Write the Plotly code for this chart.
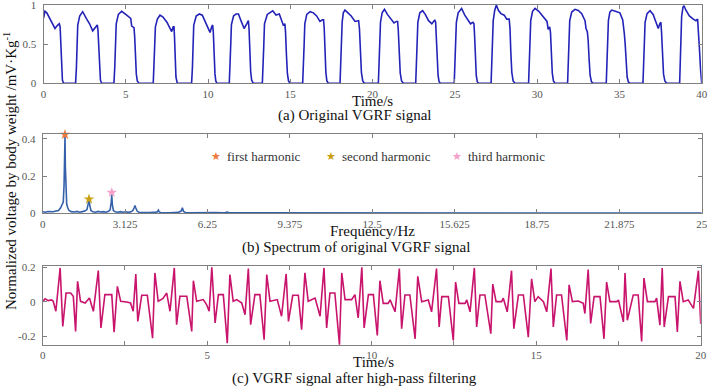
import plotly.graph_objects as go

# ---------------- (a) original VGRF signal ----------------
vgrf_time = [
    0, 0.09, 0.2, 0.35, 0.55, 0.70, 0.85, 0.96, 1.01, 1.06, 1.1, 1.15, 1.22,
    1.95, 2.0, 2.04, 2.08, 2.2, 2.38, 2.6, 2.8, 2.99, 3.15, 3.27, 3.31, 3.36, 3.41, 3.46, 3.53,
    4.28, 4.33, 4.37, 4.42, 4.55, 4.75, 5.0, 5.15, 5.30, 5.36, 5.5, 5.54, 5.59, 5.64, 5.7, 5.8,
    6.67, 6.72, 6.76, 6.80, 6.92, 7.08, 7.25, 7.5, 7.65, 7.79, 7.88, 7.93, 7.96, 8.0, 8.05, 8.13,
    9.0, 9.05, 9.09, 9.13, 9.28, 9.47, 9.65, 9.85, 10.0, 10.12, 10.22, 10.28, 10.32, 10.37, 10.42, 10.47, 10.54,
    11.29, 11.34, 11.38, 11.42, 11.55, 11.7, 11.85, 12.0, 12.19, 12.35, 12.45, 12.49, 12.54, 12.59, 12.65, 12.75,
    13.3, 13.35, 13.39, 13.43, 13.6, 13.93, 14.13, 14.33, 14.45, 14.57, 14.67, 14.71, 14.76, 14.82, 14.89, 14.98,
    15.75, 15.8, 15.84, 15.88, 16.0, 16.2, 16.4, 16.6, 16.8, 16.95, 17.02, 17.06, 17.11, 17.16, 17.22, 17.31,
    18.02, 18.07, 18.11, 18.15, 18.22, 18.32, 18.5, 18.7, 18.93, 19.05, 19.15, 19.2, 19.26, 19.32, 19.4, 19.5,
    20.35, 20.4, 20.44, 20.48, 20.58, 20.72, 20.9, 21.1, 21.3, 21.45, 21.52, 21.56, 21.62, 21.68, 21.76, 21.87,
    22.62, 22.67, 22.71, 22.75, 22.87, 23.04, 23.2, 23.4, 23.6, 23.78, 23.83, 23.87, 23.92, 23.98, 24.04, 24.12,
    24.96, 25.01, 25.05, 25.09, 25.2, 25.41, 25.6, 25.8, 25.95, 26.1, 26.16, 26.2, 26.25, 26.3, 26.36, 26.45,
    27.2, 27.25, 27.29, 27.33, 27.42, 27.52, 27.65, 27.8, 28.0, 28.15, 28.3, 28.35, 28.4, 28.46, 28.54, 28.65,
    29.48, 29.53, 29.57, 29.61, 29.72, 29.87, 30.1, 30.4, 30.6, 30.67, 30.76, 30.81, 30.86, 30.92, 30.99, 31.08,
    31.85, 31.9, 31.94, 31.98, 32.1, 32.3, 32.5, 32.71, 32.91, 32.97, 33.05, 33.1, 33.16, 33.22, 33.3, 33.41,
    34.2, 34.25, 34.29, 34.33, 34.42, 34.53, 34.75, 35.03, 35.2, 35.25, 35.3, 35.35, 35.41, 35.47, 35.54, 35.64,
    36.43, 36.48, 36.52, 36.56, 36.68, 36.86, 37.05, 37.2, 37.36, 37.45, 37.52, 37.56, 37.62, 37.68, 37.76, 37.87,
    38.66, 38.7, 38.74, 38.78, 38.86, 38.92, 39.05, 39.25, 39.49, 39.65, 39.75, 39.8, 39.86, 39.93, 40.0,
]
vgrf_value = [
    0.83, 0.92, 0.90, 0.84, 0.76, 0.70, 0.74, 0.76, 0.72, 0.45, 0.18, 0.04, 0,
    0, 0.2, 0.5, 0.74, 0.86, 0.915, 0.83, 0.76, 0.67, 0.72, 0.745, 0.68, 0.42, 0.15, 0.04, 0,
    0, 0.2, 0.5, 0.76, 0.88, 0.92, 0.88, 0.85, 0.83, 0.73, 0.71, 0.6, 0.35, 0.12, 0.03, 0,
    0, 0.2, 0.5, 0.72, 0.82, 0.87, 0.85, 0.78, 0.72, 0.66, 0.72, 0.72, 0.6, 0.3, 0.08, 0,
    0, 0.2, 0.5, 0.74, 0.86, 0.885, 0.87, 0.78, 0.72, 0.65, 0.72, 0.745, 0.65, 0.35, 0.12, 0.03, 0,
    0, 0.2, 0.5, 0.75, 0.86, 0.885, 0.885, 0.80, 0.70, 0.76, 0.80, 0.7, 0.4, 0.15, 0.04, 0,
    0, 0.2, 0.5, 0.76, 0.88, 0.927, 0.872, 0.885, 0.80, 0.745, 0.76, 0.65, 0.38, 0.13, 0.03, 0,
    0, 0.2, 0.5, 0.76, 0.88, 0.915, 0.90, 0.86, 0.79, 0.81, 0.81, 0.7, 0.4, 0.14, 0.03, 0,
    0, 0.25, 0.55, 0.78, 0.9, 0.935, 0.90, 0.86, 0.79, 0.80, 0.80, 0.7, 0.4, 0.14, 0.03, 0,
    0, 0.25, 0.55, 0.78, 0.9, 0.945, 0.88, 0.82, 0.77, 0.79, 0.79, 0.68, 0.38, 0.13, 0.03, 0,
    0, 0.25, 0.55, 0.78, 0.9, 0.927, 0.88, 0.80, 0.76, 0.81, 0.78, 0.6, 0.3, 0.1, 0.02, 0,
    0, 0.25, 0.55, 0.78, 0.9, 0.955, 0.87, 0.80, 0.76, 0.78, 0.76, 0.6, 0.3, 0.1, 0.02, 0,
    0, 0.25, 0.55, 0.8, 0.93, 1.0, 0.93, 0.89, 0.87, 0.82, 0.82, 0.7, 0.4, 0.14, 0.03, 0,
    0, 0.25, 0.55, 0.8, 0.92, 0.957, 0.92, 0.85, 0.79, 0.69, 0.72, 0.65, 0.38, 0.13, 0.03, 0,
    0, 0.25, 0.55, 0.8, 0.91, 0.945, 0.93, 0.89, 0.80, 0.70, 0.66, 0.55, 0.3, 0.1, 0.02, 0,
    0, 0.25, 0.55, 0.8, 0.91, 0.935, 0.92, 0.90, 0.81, 0.66, 0.63, 0.5, 0.25, 0.08, 0.02, 0,
    0, 0.25, 0.55, 0.78, 0.89, 0.927, 0.88, 0.80, 0.70, 0.76, 0.78, 0.65, 0.35, 0.12, 0.03, 0,
    0, 0.3, 0.6, 0.85, 0.97, 0.99, 0.93, 0.86, 0.82, 0.80, 0.82, 0.7, 0.45, 0.18, 0,
]
vgrf_ticks = [0, 5, 10, 15, 20, 25, 30, 35, 40]

# ---------------- (b) spectrum ----------------
spec_freq = [
    0, 0.1, 0.2, 0.3, 0.4, 0.5, 0.6, 0.68, 0.74, 0.78,
    0.81, 0.83, 0.846, 0.86, 0.88, 0.91, 0.95, 1.0, 1.08, 1.2,
    1.3, 1.4, 1.5, 1.6, 1.68, 1.72, 1.756, 1.79, 1.83, 1.9,
    2.0, 2.1, 2.2, 2.3, 2.4, 2.5, 2.56, 2.6, 2.62, 2.64,
    2.68, 2.75, 2.85, 2.95, 3.05, 3.15, 3.25, 3.35, 3.42, 3.47,
    3.5, 3.53, 3.58, 3.65, 3.75, 3.9, 4.05, 4.2, 4.33, 4.39,
    4.42, 4.47, 4.6, 4.8, 5.0, 5.15, 5.25, 5.3, 5.34, 5.42,
    5.6, 5.8, 6.1, 6.5, 6.9, 7.0, 7.08, 7.3, 7.7, 8.2,
    9.0, 10.0, 11.0, 12.5, 14.0, 16.0, 18.0, 20.0, 22.0, 25.0,
]
spec_amp = [
    0.008, 0.006, 0.01, 0.007, 0.008, 0.012, 0.015, 0.03, 0.05, 0.06,
    0.15, 0.3, 0.415, 0.25, 0.08, 0.05, 0.03, 0.015, 0.009, 0.007,
    0.01, 0.006, 0.009, 0.012, 0.02, 0.04, 0.072, 0.04, 0.015, 0.008,
    0.006, 0.01, 0.007, 0.009, 0.006, 0.011, 0.02, 0.06, 0.1, 0.05,
    0.015, 0.008, 0.006, 0.009, 0.006, 0.008, 0.005, 0.008, 0.015, 0.03,
    0.042, 0.03, 0.012, 0.006, 0.005, 0.006, 0.004, 0.005, 0.006, 0.017,
    0.007, 0.004, 0.005, 0.003, 0.004, 0.005, 0.012, 0.03, 0.01, 0.004,
    0.003, 0.004, 0.003, 0.004, 0.003, 0.006, 0.003, 0.003, 0.002, 0.003,
    0.002, 0.002, 0.002, 0.0015, 0.002, 0.0015, 0.0015, 0.001, 0.001, 0.001,
]
spec_ticks = [0, 3.125, 6.25, 9.375, 12.5, 15.625, 18.75, 21.875, 25]
spec_ticktext = ["0", "3.125", "6.25", "9.375", "12.5", "15.625", "18.75", "21.875", "25"]
harmonic_names = ["first harmonic", "second harmonic", "third harmonic"]
harmonic_freq = [0.846, 1.756, 2.62]
harmonic_amp = [0.424, 0.076, 0.112]
harmonic_colors = ["#F07A3C", "#C9A012", "#F5A0C8"]

# ---------------- (c) high-pass filtered signal ----------------
hp_time = [
    0, 0.07, 0.17, 0.27, 0.32, 0.40, 0.53, 0.61, 0.71, 0.85, 0.93, 1.00, 1.06, 1.15, 1.29, 1.42,
    1.54, 1.69, 1.77, 1.89, 2.10, 2.17, 2.27, 2.37, 2.55, 2.67, 2.75, 2.83, 2.89, 3.01, 3.18,
    3.34, 3.41, 3.51, 3.65, 3.77, 3.87, 4.00, 4.07, 4.17, 4.38, 4.53, 4.58, 4.68, 4.88, 4.98,
    5.06, 5.14, 5.24, 5.34, 5.49, 5.61, 5.69, 5.79, 5.90, 6.05, 6.15, 6.25, 6.32, 6.45, 6.60,
    6.73, 6.81, 6.91, 7.13, 7.26, 7.40, 7.47, 7.60, 7.77, 7.87, 7.97, 8.07, 8.28, 8.43, 8.55,
    8.63, 8.73, 8.88, 9.02, 9.09, 9.19, 9.39, 9.49, 9.59, 9.70, 9.77, 9.90, 10.05, 10.17, 10.25,
    10.35, 10.50, 10.56, 10.71, 10.84, 10.91, 11.01, 11.16, 11.32, 11.40, 11.52, 11.72, 11.82, 11.97,
    12.05, 12.13, 12.33, 12.48, 12.55, 12.65, 12.84, 12.89, 12.99, 13.12, 13.19, 13.29, 13.44,
    13.62, 13.68, 13.78, 13.95, 14.00, 14.12, 14.25, 14.32, 14.46, 14.61, 14.76, 14.86, 14.96,
    15.06, 15.22, 15.32, 15.45, 15.52, 15.62, 15.77, 15.93, 16.00, 16.10, 16.28, 16.43, 16.48,
    16.58, 16.655, 16.76, 16.94, 17.06, 17.14, 17.24, 17.45, 17.50, 17.65, 17.70, 17.77, 17.95,
    18.10, 18.205, 18.275, 18.38, 18.61, 18.66, 18.76, 18.83, 18.89, 19.02, 19.22, 19.29, 19.37,
    19.47, 19.62, 19.78, 19.93, 20.0,
]
hp_value = [
    0.0, 0.017, 0.006, 0.01, 0.002, -0.056, 0.196, -0.144, 0.05, 0.05, 0.031, -0.173, 0.118, 0.002, -0.008, 0.021,
    -0.056, 0.181, -0.153, 0.041, 0.041, -0.177, 0.089, 0.002, -0.002, -0.008, -0.056, 0.161, -0.115, 0.037, 0.037,
    -0.212, 0.167, 0.002, 0.017, 0.05, -0.056, 0.196, -0.134, 0.031, 0.031, -0.173, 0.122, 0.002, 0.012, -0.017,
    -0.056, 0.2, -0.124, 0.041, 0.041, -0.241, 0.157, 0.002, 0.012, -0.008, -0.076, 0.192, -0.134, 0.041, 0.041,
    -0.221, 0.157, 0.002, 0.012, -0.085, 0.161, -0.115, 0.037, 0.037, -0.163, 0.167, 0.002, 0.021, -0.085, 0.196,
    -0.153, 0.05, 0.05, -0.25, 0.167, 0.012, 0.012, 0.041, -0.095, 0.2, -0.153, 0.041, 0.041, -0.196, 0.122,
    -0.01, -0.01, 0.01, -0.059, 0.192, -0.157, 0.039, 0.039, -0.216, 0.147, 0.0, 0.01, -0.059, 0.192,
    -0.147, 0.029, 0.029, -0.225, 0.114, -0.01, -0.01, 0.01, -0.059, 0.196, -0.147, 0.039, 0.039,
    -0.186, 0.102, 0.0, 0.0, 0.02, -0.059, 0.18, -0.157, 0.039, 0.039, -0.206, 0.133, 0.0,
    0.029, 0.0, -0.059, 0.192, -0.147, 0.039, 0.039, -0.225, 0.098, 0.0, 0.004, -0.01, -0.069,
    0.186, -0.127, 0.029, 0.029, -0.216, 0.114, 0.0, 0.0, 0.01, -0.118, 0.167, -0.108, 0.039,
    0.039, -0.231, 0.137, 0.0, 0.0, 0.02, -0.137, 0.196, -0.147, 0.029, 0.029, -0.176, 0.118,
    0.0, 0.01, -0.039, 0.18, -0.13,
]
hp_ticks = [0, 5, 10, 15, 20]
hp_minor_ticks = [2.5, 7.5, 12.5, 17.5]

W, H = 708, 391
SERIF = "Liberation Serif, Times New Roman, serif"
AXIS_GRAY = "#808080"


def px_x(p):
    return p / W


def px_y(p):
    return 1 - p / H


fig = go.Figure()
fig.add_trace(go.Scatter(x=vgrf_time, y=vgrf_value, mode="lines", showlegend=False,
                         line=dict(color="#2323B8", width=1.6), xaxis="x", yaxis="y"))
fig.add_trace(go.Scatter(x=spec_freq, y=spec_amp, mode="lines", showlegend=False,
                         line=dict(color="#3561AA", width=1.6), xaxis="x2", yaxis="y2"))
for i in range(3):
    fig.add_trace(go.Scatter(x=[harmonic_freq[i]], y=[harmonic_amp[i]], mode="markers",
                             name=harmonic_names[i], showlegend=False, cliponaxis=False,
                             marker=dict(symbol="star", size=8, color=harmonic_colors[i],
                                         line=dict(width=0)),
                             xaxis="x2", yaxis="y2"))
fig.add_trace(go.Scatter(x=hp_time, y=hp_value, mode="lines", showlegend=False,
                         line=dict(color="#C8146C", width=1.6), xaxis="x3", yaxis="y3"))

axis_common = dict(showline=True, mirror="ticks", linecolor=AXIS_GRAY, linewidth=1,
                   ticks="inside", ticklen=4, tickcolor=AXIS_GRAY, showgrid=False,
                   zeroline=False, automargin=False, ticklabeloverflow="allow",
                   tickfont=dict(family=SERIF, size=11, color="#555555"))

fig.update_layout(
    template="none",
    width=W, height=H, margin=dict(l=0, r=0, t=0, b=0, autoexpand=False),
    paper_bgcolor="white", plot_bgcolor="white", showlegend=False,
    xaxis=dict(domain=[px_x(43.5), px_x(701.7)], range=[0, 40], anchor="y",
               tickvals=vgrf_ticks, **axis_common),
    yaxis=dict(domain=[px_y(83.3), px_y(5)], range=[0, 1], anchor="x",
               tickvals=[0, 0.5, 1], ticklabelstandoff=4, **axis_common),
    xaxis2=dict(domain=[px_x(42.7), px_x(701.7)], range=[0, 25], anchor="y2",
                tickvals=spec_ticks, ticktext=spec_ticktext, **axis_common),
    yaxis2=dict(domain=[px_y(213.3), px_y(134.3)], range=[0, 0.425], anchor="x2",
                tickvals=[0, 0.2, 0.4], ticklabelstandoff=4, **axis_common),
    xaxis3=dict(domain=[px_x(42.7), px_x(700.7)], range=[0, 20], anchor="y3",
                tickvals=hp_ticks,
                minor=dict(tickvals=hp_minor_ticks, ticks="inside", ticklen=4,
                           tickcolor=AXIS_GRAY, showgrid=False),
                **axis_common),
    yaxis3=dict(domain=[px_y(345), px_y(265.7)], range=[-0.252, 0.209], anchor="x3",
                tickvals=[-0.2, 0, 0.2], ticktext=["-0.2", "0", "0.2"], ticklabelstandoff=4,
                **axis_common),
)

# legend keys (star + label) inside panel (b)
legend_star_px = [216, 331, 457]
for i in range(3):
    fig.add_annotation(text="★", x=px_x(legend_star_px[i]), y=px_y(156), xref="paper",
                       yref="paper", showarrow=False, xanchor="center", yanchor="middle",
                       font=dict(family="DejaVu Sans", size=11, color=harmonic_colors[i]))
    fig.add_annotation(text=harmonic_names[i], x=px_x(legend_star_px[i] + 9), y=px_y(156),
                       xref="paper", yref="paper", showarrow=False, xanchor="left",
                       yanchor="middle",
                       font=dict(family=SERIF, size=13, color="#333333"))

texts = [
    ("Time/s", 372.5, 101, 15),
    ("(a) Original VGRF signal", 355, 115, 15),
    ("Frequency/Hz", 372, 231, 15),
    ("(b) Spectrum of original VGRF signal", 355.5, 247, 15),
    ("Time/s", 373, 362, 15),
    ("(c) VGRF signal after high-pass filtering", 355, 378, 15),
]
for t, x, y, s in texts:
    fig.add_annotation(text=t, x=px_x(x), y=px_y(y), xref="paper", yref="paper",
                       showarrow=False, xanchor="center", yanchor="middle",
                       font=dict(family=SERIF, size=s, color="#111111"))
fig.add_annotation(text="Normalized voltage by body weight /mV·Kg<sup>-1</sup>",
                   x=px_x(10), y=px_y(171), xref="paper", yref="paper", textangle=-90,
                   showarrow=False, xanchor="center", yanchor="middle",
                   font=dict(family=SERIF, size=15, color="#111111"))

fig.write_html(
    "out.html",
    config={"displayModeBar": False},
    post_script="document.body.style.margin='0';document.body.style.overflow='hidden';",
)
